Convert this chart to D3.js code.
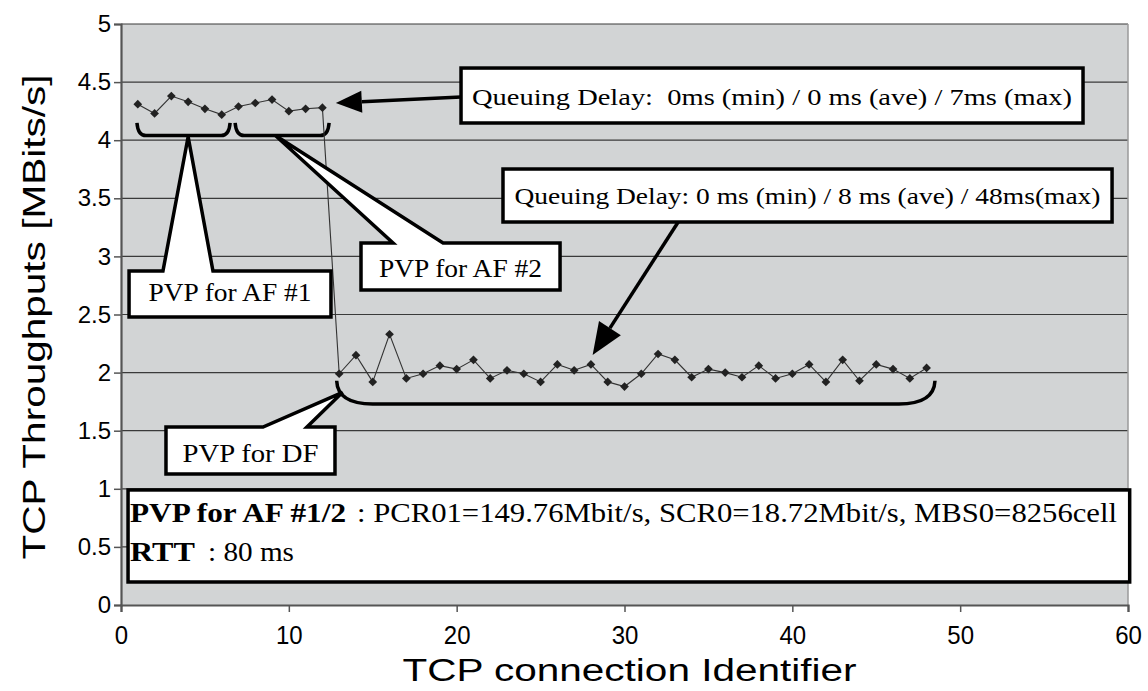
<!DOCTYPE html>
<html>
<head>
<meta charset="utf-8">
<script src="https://cdn.jsdelivr.net/npm/d3@7"></script>
<style>
  html, body { margin: 0; padding: 0; background: #ffffff; }
  svg { display: block; }
  .pre { white-space: pre; }
</style>
</head>
<body>
<svg id="chart" width="1148" height="691"></svg>
<script>
// ---- data -------------------------------------------------------------
const connectionIds = [1, 2, 3, 4, 5, 6, 7, 8, 9, 10, 11, 12,
  13, 14, 15, 16, 17, 18, 19, 20, 21, 22, 23, 24, 25, 26, 27, 28, 29, 30,
  31, 32, 33, 34, 35, 36, 37, 38, 39, 40, 41, 42, 43, 44, 45, 46, 47, 48];
const throughput = [4.31, 4.23, 4.38, 4.33, 4.27, 4.22, 4.29, 4.32, 4.35, 4.25, 4.27, 4.28,
  1.99, 2.15, 1.92, 2.33, 1.95, 1.99, 2.06, 2.03, 2.11, 1.95, 2.02, 1.99, 1.92, 2.07, 2.02, 2.07, 1.92, 1.88,
  1.99, 2.16, 2.11, 1.96, 2.03, 2.00, 1.96, 2.06, 1.95, 1.99, 2.07, 1.92, 2.11, 1.93, 2.07, 2.03, 1.95, 2.04];
const xTicks = [0, 10, 20, 30, 40, 50, 60];
const yTicks = [0, 0.5, 1, 1.5, 2, 2.5, 3, 3.5, 4, 4.5, 5];
const yTickLabels = ["0", "0.5", "1", "1.5", "2", "2.5", "3", "3.5", "4", "4.5", "5"];
const xTitle = "TCP connection Identifier";
const yTitle = "TCP Throughputs [MBits/s]";
const groupLabels = ["PVP for AF #1", "PVP for AF #2", "PVP for DF"];
const delayLabels = ["Queuing Delay:  0ms (min) / 0 ms (ave) / 7ms (max)",
                     "Queuing Delay: 0 ms (min) / 8 ms (ave) / 48ms(max)"];
const settingsBold = ["PVP for AF #1/2", "RTT"];
const settingsText = [": PCR01=149.76Mbit/s, SCR0=18.72Mbit/s, MBS0=8256cell", ": 80 ms"];

// ---- layout -----------------------------------------------------------
const svg = d3.select("#chart");
const plot = { left: 121, right: 1128, top: 24, bottom: 605 };
const x = d3.scaleLinear().domain([0, 60]).range([plot.left, plot.right]);
const y = d3.scaleLinear().domain([0, 5]).range([plot.bottom, plot.top]);
const P = (a, b) => [x(a), y(b)];

const serif = "'Liberation Serif', 'DejaVu Serif', serif";
const sans = "'Liberation Sans', Arial, sans-serif";

// plot background
svg.append("rect")
  .attr("x", plot.left).attr("y", plot.top)
  .attr("width", plot.right - plot.left).attr("height", plot.bottom - plot.top)
  .attr("fill", "#d2d4d5");

// horizontal grid lines
svg.append("g").selectAll("line").data(yTicks.slice(1)).join("line")
  .attr("x1", plot.left).attr("x2", plot.right)
  .attr("y1", d => y(d)).attr("y2", d => y(d))
  .attr("stroke", "#3a3a3a").attr("stroke-width", 1.2);

// right frame edge
svg.append("line")
  .attr("x1", plot.right).attr("x2", plot.right)
  .attr("y1", plot.top).attr("y2", plot.bottom)
  .attr("stroke", "#9a9a9a").attr("stroke-width", 1.5);

// axes
const yAxis = d3.axisLeft(y).tickValues(yTicks)
  .tickFormat((d, i) => yTickLabels[i]).tickSize(7).tickPadding(3);
const xAxis = d3.axisBottom(x).tickValues(xTicks).tickSize(7).tickPadding(13);

const gy = svg.append("g").attr("transform", `translate(${plot.left},0)`).call(yAxis);
const gx = svg.append("g").attr("transform", `translate(0,${plot.bottom})`).call(xAxis);
[gx, gy].forEach(g => {
  g.select(".domain").attr("stroke", "#555").attr("stroke-width", 2.2);
  g.selectAll(".tick line").attr("stroke", "#555").attr("stroke-width", 1.5);
  g.selectAll("text").attr("fill", "#000").style("font-family", sans).style("font-size", "24px");
});
gx.selectAll("text").attr("transform", "scale(1,1.05)");

// axis titles
svg.append("text")
  .attr("x", (plot.left + plot.right) / 2 + 5).attr("y", 681)
  .attr("text-anchor", "middle")
  .attr("textLength", 454).attr("lengthAdjust", "spacingAndGlyphs")
  .style("font-family", sans).style("font-size", "31px")
  .text(xTitle);
svg.append("text")
  .attr("transform", `translate(45,${317}) rotate(-90)`)
  .attr("text-anchor", "middle")
  .attr("textLength", 485).attr("lengthAdjust", "spacingAndGlyphs")
  .style("font-family", sans).style("font-size", "32px")
  .text(yTitle);

// group brackets under the points
const braces = [
  { span: [0.95, 6.5], top: 4.15, bottom: 4.04, r: 9 },
  { span: [6.8, 12.4], top: 4.15, bottom: 4.04, r: 9 },
  { span: [12.85, 48.5], top: 1.93, bottom: 1.73, r: 36 }
];
svg.append("g").selectAll("path").data(braces).join("path")
  .attr("d", b => {
    const x0 = x(b.span[0]), x1 = x(b.span[1]), yt = y(b.top), yb = y(b.bottom);
    return `M${x0},${yt} Q${x0 + 1},${yb} ${x0 + b.r},${yb} L${x1 - b.r},${yb} Q${x1 - 1},${yb} ${x1},${yt}`;
  })
  .attr("fill", "none").attr("stroke", "#000").attr("stroke-width", 3.5);

// throughput series
const pts = connectionIds.map((id, i) => [id, throughput[i]]);
svg.append("path")
  .datum(pts)
  .attr("d", d3.line().x(d => x(d[0])).y(d => y(d[1])))
  .attr("fill", "none").attr("stroke", "#333").attr("stroke-width", 1.1);
svg.append("g").selectAll("path").data(pts).join("path")
  .attr("transform", d => `translate(${x(d[0])},${y(d[1])}) rotate(45)`)
  .attr("d", d3.symbol(d3.symbolSquare, 38))
  .attr("fill", "#222");

// callouts naming the PVP groups
const callouts = [
  { box: [0.48, 12.51, 2.874, 2.478], base: [2.50, 5.48], tip: [4.0, 4.03], len: 163, dy: 7 },
  { box: [14.30, 26.16, 3.115, 2.711], base: [16.21, 19.19], tip: [9.2, 4.04], len: 163, dy: 10 },
  { box: [2.68, 12.75, 1.532, 1.127], base: [8.46, 11.08], tip: [13.2, 1.83], len: 136, dy: 11 }
];
const cg = svg.append("g");
callouts.forEach((c, i) => {
  const [bx0, bx1, byt, byb] = c.box;
  const pts = [P(bx0, byt), P(c.base[0], byt), P(c.tip[0], c.tip[1]), P(c.base[1], byt),
               P(bx1, byt), P(bx1, byb), P(bx0, byb)];
  cg.append("path")
    .attr("d", "M" + pts.map(p => p.join(",")).join("L") + "Z")
    .attr("fill", "#fff").attr("stroke", "#000").attr("stroke-width", 3.5)
    .attr("stroke-linejoin", "miter");
  cg.append("text")
    .attr("x", (x(bx0) + x(bx1)) / 2).attr("y", (y(byt) + y(byb)) / 2 + c.dy)
    .attr("text-anchor", "middle")
    .attr("textLength", c.len).attr("lengthAdjust", "spacingAndGlyphs")
    .style("font-family", serif).style("font-size", "26px")
    .text(groupLabels[i]);
});

// queuing delay boxes with arrows
const delayBoxes = [
  { box: [20.26, 57.32, 4.621, 4.148], from: [20.26, 4.372], to: [12.8, 4.32], len: 600, dy: 9, head: [26, 11] },
  { box: [22.76, 59.05, 3.752, 3.296], from: [33.2, 3.296], to: [28.1, 2.151], len: 586, dy: 8, head: [32, 13] }
];
const dg = svg.append("g");
delayBoxes.forEach((d, i) => {
  const [bx0, bx1, byt, byb] = d.box;
  const [fx, fy] = P(d.from[0], d.from[1]);
  const [tx, ty] = P(d.to[0], d.to[1]);
  const ang = Math.atan2(ty - fy, tx - fx);
  const [hl, hw] = d.head;
  const bxp = tx - hl * Math.cos(ang), byp = ty - hl * Math.sin(ang);
  dg.append("line")
    .attr("x1", fx).attr("y1", fy).attr("x2", bxp).attr("y2", byp)
    .attr("stroke", "#000").attr("stroke-width", 3.5);
  dg.append("path")
    .attr("d", `M${tx},${ty}L${bxp + hw * Math.sin(ang)},${byp - hw * Math.cos(ang)}L${bxp - hw * Math.sin(ang)},${byp + hw * Math.cos(ang)}Z`)
    .attr("fill", "#000");
  dg.append("rect")
    .attr("x", x(bx0)).attr("y", y(byt))
    .attr("width", x(bx1) - x(bx0)).attr("height", y(byb) - y(byt))
    .attr("fill", "#fff").attr("stroke", "#000").attr("stroke-width", 3.5);
  dg.append("text").attr("class", "pre")
    .attr("x", (x(bx0) + x(bx1)) / 2).attr("y", (y(byt) + y(byb)) / 2 + d.dy)
    .attr("text-anchor", "middle")
    .attr("textLength", d.len).attr("lengthAdjust", "spacingAndGlyphs")
    .style("font-family", serif).style("font-size", "24px")
    .text(delayLabels[i]);
});

// settings box
const sBox = [0.42, 60.1, 0.99, 0.198];
svg.append("rect")
  .attr("x", x(sBox[0])).attr("y", y(sBox[2]))
  .attr("width", x(sBox[1]) - x(sBox[0])).attr("height", y(sBox[3]) - y(sBox[2]))
  .attr("fill", "#fff").attr("stroke", "#000").attr("stroke-width", 3.5);
const sLines = [
  { baseline: 522, bold: [130, 216], rest: [357, 760] },
  { baseline: 561, bold: [130, 65], rest: [208, 86] }
];
sLines.forEach((l, i) => {
  svg.append("text")
    .attr("x", l.bold[0]).attr("y", l.baseline)
    .attr("textLength", l.bold[1]).attr("lengthAdjust", "spacingAndGlyphs")
    .style("font-family", serif).style("font-weight", "bold").style("font-size", "28px")
    .text(settingsBold[i]);
  svg.append("text")
    .attr("x", l.rest[0]).attr("y", l.baseline)
    .attr("textLength", l.rest[1]).attr("lengthAdjust", "spacingAndGlyphs")
    .style("font-family", serif).style("font-size", "28px")
    .text(settingsText[i]);
});
</script>
</body>
</html>
